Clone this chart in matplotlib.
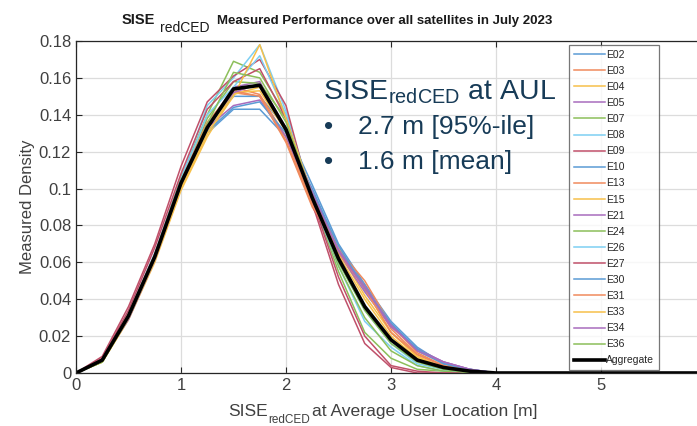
import numpy as np
import matplotlib
matplotlib.use("Agg")
import matplotlib.pyplot as plt
from matplotlib.ticker import FixedLocator, FuncFormatter

plt.rcParams['font.family'] = ['Liberation Sans', 'DejaVu Sans']

# x bin centres [m]
x_bins = [0, 0.25, 0.5, 0.75, 1.0, 1.25, 1.5, 1.75, 2.0, 2.25, 2.5, 2.75, 3.0,
          3.25, 3.5, 3.75, 4.0, 4.25, 4.5, 4.75, 5.0, 5.25, 5.5, 5.75, 6.0]

sat_names = ["E02", "E03", "E04", "E05", "E07", "E08", "E09", "E10", "E13", "E15",
             "E21", "E24", "E26", "E27", "E30", "E31", "E33", "E34", "E36"]

E02 = [0, .006, .030, .062, .100, .130, .143, .143, .128, .100, .068, .045, .026, .012, .005, .002, 0, 0, 0, 0, 0, 0, 0, 0, 0]
E03 = [0, .007, .032, .064, .104, .134, .152, .150, .125, .090, .066, .048, .024, .010, .004, .001, 0, 0, 0, 0, 0, 0, 0, 0, 0]
E04 = [0, .006, .029, .060, .099, .128, .151, .155, .132, .096, .066, .042, .022, .009, .003, .001, 0, 0, 0, 0, 0, 0, 0, 0, 0]
E05 = [0, .007, .030, .062, .102, .134, .155, .158, .132, .096, .065, .044, .025, .013, .006, .002, 0, 0, 0, 0, 0, 0, 0, 0, 0]
E07 = [0, .006, .031, .064, .106, .140, .169, .163, .140, .095, .055, .022, .008, .002, .001, 0, 0, 0, 0, 0, 0, 0, 0, 0, 0]
E08 = [0, .007, .032, .065, .105, .145, .160, .178, .142, .095, .058, .028, .014, .004, .001, 0, 0, 0, 0, 0, 0, 0, 0, 0, 0]
E09 = [0, .009, .036, .070, .112, .147, .161, .170, .145, .092, .048, .016, .003, 0, 0, 0, 0, 0, 0, 0, 0, 0, 0, 0, 0]
E10 = [0, .007, .031, .063, .103, .135, .150, .150, .133, .102, .070, .048, .028, .014, .005, .001, 0, 0, 0, 0, 0, 0, 0, 0, 0]
E13 = [0, .007, .031, .064, .103, .132, .155, .151, .128, .092, .067, .050, .026, .011, .004, .001, 0, 0, 0, 0, 0, 0, 0, 0, 0]
E15 = [0, .006, .029, .061, .100, .130, .152, .153, .131, .097, .068, .046, .022, .009, .003, .001, 0, 0, 0, 0, 0, 0, 0, 0, 0]
E21 = [0, .007, .029, .061, .101, .133, .145, .148, .128, .096, .067, .047, .026, .013, .006, .002, 0, 0, 0, 0, 0, 0, 0, 0, 0]
E24 = [0, .006, .030, .062, .103, .138, .158, .157, .138, .096, .058, .030, .012, .004, .001, 0, 0, 0, 0, 0, 0, 0, 0, 0, 0]
E26 = [0, .007, .031, .063, .104, .140, .155, .172, .140, .094, .060, .034, .016, .005, .002, 0, 0, 0, 0, 0, 0, 0, 0, 0, 0]
E27 = [0, .008, .034, .068, .108, .143, .158, .165, .138, .094, .052, .020, .004, .001, 0, 0, 0, 0, 0, 0, 0, 0, 0, 0, 0]
E30 = [0, .007, .031, .063, .102, .131, .144, .147, .130, .098, .069, .046, .027, .013, .005, .002, 0, 0, 0, 0, 0, 0, 0, 0, 0]
E31 = [0, .007, .032, .064, .104, .136, .153, .150, .126, .091, .065, .046, .022, .010, .004, .001, 0, 0, 0, 0, 0, 0, 0, 0, 0]
E33 = [0, .006, .030, .061, .100, .130, .150, .178, .138, .097, .064, .040, .020, .008, .003, .001, 0, 0, 0, 0, 0, 0, 0, 0, 0]
E34 = [0, .007, .030, .062, .102, .134, .152, .157, .133, .098, .066, .046, .026, .012, .006, .002, 0, 0, 0, 0, 0, 0, 0, 0, 0]
E36 = [0, .006, .030, .062, .102, .135, .163, .160, .136, .096, .060, .034, .016, .006, .002, 0, 0, 0, 0, 0, 0, 0, 0, 0, 0]
aggregate = [0, .007, .031, .063, .103, .133, .154, .156, .132, .095, .062, .036, .018, .007, .003, .001, 0, 0, 0, 0, 0, 0, 0, 0, 0]

sat_series = [E02, E03, E04, E05, E07, E08, E09, E10, E13, E15,
              E21, E24, E26, E27, E30, E31, E33, E34, E36]

x_ticks = [0, 1, 2, 3, 4, 5]
y_ticks = [0, 0.02, 0.04, 0.06, 0.08, 0.1, 0.12, 0.14, 0.16, 0.18]

cycle = ["#5b9bd5", "#f08a5d", "#f7c04a", "#a86cbd", "#8cbf5a", "#7dcff2", "#c0506a"]

W, H = 697, 426
fig = plt.figure(figsize=(W / 100, H / 100), dpi=100)
ax_left, ax_bottom, ax_top = 76, 373, 41
ax_w = 630  # axes extends slightly past the image's right edge
ax = fig.add_axes([ax_left / W, 1 - ax_bottom / H, ax_w / W, (ax_bottom - ax_top) / H])

for i, (name, s) in enumerate(zip(sat_names, sat_series)):
    ax.plot(x_bins, s, color=cycle[i % 7], lw=1.1, label=name)
ax.plot(x_bins, aggregate, color="black", lw=2.6, label="Aggregate")

ax.set_xlim(0, 6)
ax.set_ylim(0, 0.18)
ax.xaxis.set_major_locator(FixedLocator(x_ticks))
ax.yaxis.set_major_locator(FixedLocator(y_ticks))
ax.yaxis.set_major_formatter(FuncFormatter(lambda v, p: f"{v:g}"))
ax.xaxis.set_major_formatter(FuncFormatter(lambda v, p: f"{v:g}"))
ax.grid(True, color="#dcdcdc", lw=0.9)
ax.set_axisbelow(True)
ax.tick_params(direction="in", length=4, width=0.8, colors="#262626",
               labelcolor="#404040", labelsize=12, top=True)
for sp in ax.spines.values():
    sp.set_color("#262626")
    sp.set_linewidth(0.9)

ax.set_ylabel("Measured Density", fontsize=12, color="#404040")
ax.yaxis.set_label_coords(-(ax_left - 35) / ax_w, 0.5)

grey = "#404040"
# x label: SISE_redCED at Average User Location [m]
fig.text(228 / W, 1 - 416 / H, "SISE", fontsize=12.5, color=grey, va="baseline")
fig.text(268 / W, 1 - 423 / H, "redCED", fontsize=8.5, color=grey, va="baseline")
fig.text(312 / W, 1 - 416 / H, "at Average User Location [m]", fontsize=12.6,
         color=grey, va="baseline")

# title: SISE_redCED Measured Performance over all satellites in July 2023
dark = "#1a1a1a"
fig.text(122 / W, 1 - 24 / H, "SISE", fontsize=10.5, fontweight="bold", color=dark,
         va="baseline")
fig.text(160 / W, 1 - 32 / H, "redCED", fontsize=10, color=dark, va="baseline")
fig.text(217 / W, 1 - 24 / H, "Measured Performance over all satellites in July 2023",
         fontsize=9.5, fontweight="bold", color=dark, va="baseline")

navy = "#173b57"
fig.text(323 / W, 1 - 99 / H, r"SISE$_{\mathregular{redCED}}$ at AUL", fontsize=20.5,
         color=navy, va="baseline", ha="left")
fig.text(324 / W, 1 - 134 / H, "\u2022", fontsize=19, color=navy, va="baseline")
fig.text(358 / W, 1 - 134 / H, "2.7 m [95%-ile]", fontsize=19, color=navy, va="baseline")
fig.text(324 / W, 1 - 169 / H, "\u2022", fontsize=19, color=navy, va="baseline")
fig.text(358 / W, 1 - 169 / H, "1.6 m [mean]", fontsize=19, color=navy, va="baseline")

leg = ax.legend(loc="upper left", bbox_to_anchor=(569 / W, 1 - 45 / H),
                bbox_transform=fig.transFigure, fontsize=7.5, labelspacing=0.585,
                handlelength=3.0, handletextpad=0.12, borderpad=0.45,
                borderaxespad=0, frameon=True, fancybox=False)
leg.get_frame().set_edgecolor("#555555")
leg.get_frame().set_linewidth(0.9)
for t in leg.get_texts():
    t.set_color("#262626")

fig.savefig("out.png", dpi=100)
